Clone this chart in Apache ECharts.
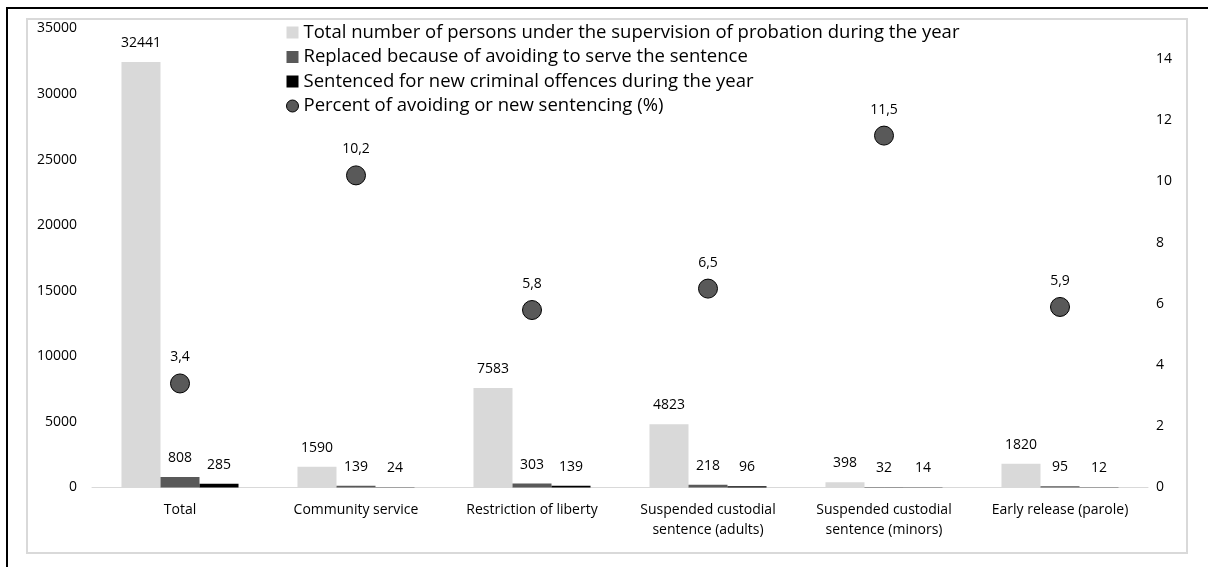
<!DOCTYPE html>
<html>
<head>
<meta charset="utf-8">
<script src="https://cdn.jsdelivr.net/npm/echarts@6/dist/echarts.min.js"></script>
<style>
  html, body { margin: 0; padding: 0; background: #fff; }
  #chart { width: 1208px; height: 567px; }
</style>
</head>
<body>
<div id="chart"></div>
<script>
// Probation supervision by type of measure
const categories = [
  'Total',
  'Community service',
  'Restriction of liberty',
  'Suspended custodial\nsentence (adults)',
  'Suspended custodial\nsentence (minors)',
  'Early release (parole)'
];
const totalSupervised = [32441, 1590, 7583, 4823, 398, 1820];
const replacedAvoiding = [808, 139, 303, 218, 32, 95];
const newOffences = [285, 24, 139, 96, 14, 12];
const percentAvoidingOrNew = [3.4, 10.2, 5.8, 6.5, 11.5, 5.9];

const seriesNames = [
  'Total number of persons under the supervision of probation during the year',
  'Replaced because of avoiding to serve the sentence',
  'Sentenced for new criminal offences during the year',
  'Percent of avoiding or new sentencing (%)'
];
const leftTicks = { min: 0, max: 35000, step: 5000 };
const rightTicks = { min: 0, max: 15, step: 2 };

const FONT = 'Open Sans';
const chart = echarts.init(document.getElementById('chart'), null, { renderer: 'canvas' });

const barLabel = {
  show: true,
  position: 'top',
  distance: 12,
  color: '#000',
  fontFamily: FONT,
  fontSize: 14
};

chart.setOption({
  animation: false,
  backgroundColor: '#fff',
  textStyle: { fontFamily: FONT },
  graphic: [
    { type: 'rect', shape: { x: 7, y: 8, width: 1230, height: 600 },
      style: { fill: 'none', stroke: '#000', lineWidth: 2 }, silent: true, z: -10 },
    { type: 'rect', shape: { x: 27, y: 19, width: 1160, height: 534 },
      style: { fill: 'none', stroke: '#d9d9d9', lineWidth: 2 }, silent: true, z: -10 }
  ],
  legend: {
    orient: 'vertical',
    left: 281,
    top: 17.5,
    itemWidth: 12,
    itemHeight: 12,
    itemGap: 4.5,
    textStyle: { fontFamily: FONT, fontSize: 18.5, color: '#000', lineHeight: 20 },
    data: [
      { name: seriesNames[0], icon: 'rect' },
      { name: seriesNames[1], icon: 'rect' },
      { name: seriesNames[2], icon: 'rect' },
      { name: seriesNames[3], icon: 'circle', itemStyle: { borderColor: '#000', borderWidth: 1 } }
    ]
  },
  grid: { left: 92, right: 60, top: 28.5, bottom: 79.5, containLabel: false },
  xAxis: {
    type: 'category',
    data: categories,
    axisLine: { show: true, lineStyle: { color: '#d9d9d9', width: 1 } },
    axisTick: { show: false },
    axisLabel: {
      color: '#000', fontFamily: FONT, fontSize: 14, lineHeight: 20, margin: 12.5,
      interval: 0
    }
  },
  yAxis: [
    {
      type: 'value',
      min: leftTicks.min, max: leftTicks.max, interval: leftTicks.step,
      splitLine: { show: false },
      axisLine: { show: false }, axisTick: { show: false },
      axisLabel: {
        color: '#000', fontFamily: FONT, fontSize: 14, margin: 15,
        formatter: v => String(v)
      }
    },
    {
      type: 'value',
      min: rightTicks.min, max: rightTicks.max, interval: rightTicks.step,
      splitLine: { show: false },
      axisLine: { show: false }, axisTick: { show: false },
      axisLabel: {
        color: '#000', fontFamily: FONT, fontSize: 14, margin: 8,
        showMaxLabel: false,
        formatter: v => (v === rightTicks.max ? '' : String(v))
      }
    }
  ],
  series: [
    {
      name: seriesNames[0], type: 'bar', yAxisIndex: 0,
      data: totalSupervised,
      barGap: '0%', barCategoryGap: '33.5%',
      itemStyle: { color: '#d9d9d9' },
      label: barLabel
    },
    {
      name: seriesNames[1], type: 'bar', yAxisIndex: 0,
      data: replacedAvoiding,
      itemStyle: { color: '#595959' },
      label: barLabel
    },
    {
      name: seriesNames[2], type: 'bar', yAxisIndex: 0,
      data: newOffences,
      itemStyle: { color: '#000' },
      label: barLabel
    },
    {
      name: seriesNames[3], type: 'scatter', yAxisIndex: 1,
      data: percentAvoidingOrNew,
      symbol: 'circle', symbolSize: 19,
      itemStyle: { color: '#595959', borderColor: '#000', borderWidth: 1, opacity: 1 },
      label: {
        show: true, position: 'top', distance: 9,
        color: '#000', fontFamily: FONT, fontSize: 14,
        formatter: p => String(p.value).replace('.', ',')
      },
      z: 5
    }
  ]
});
</script>
</body>
</html>
